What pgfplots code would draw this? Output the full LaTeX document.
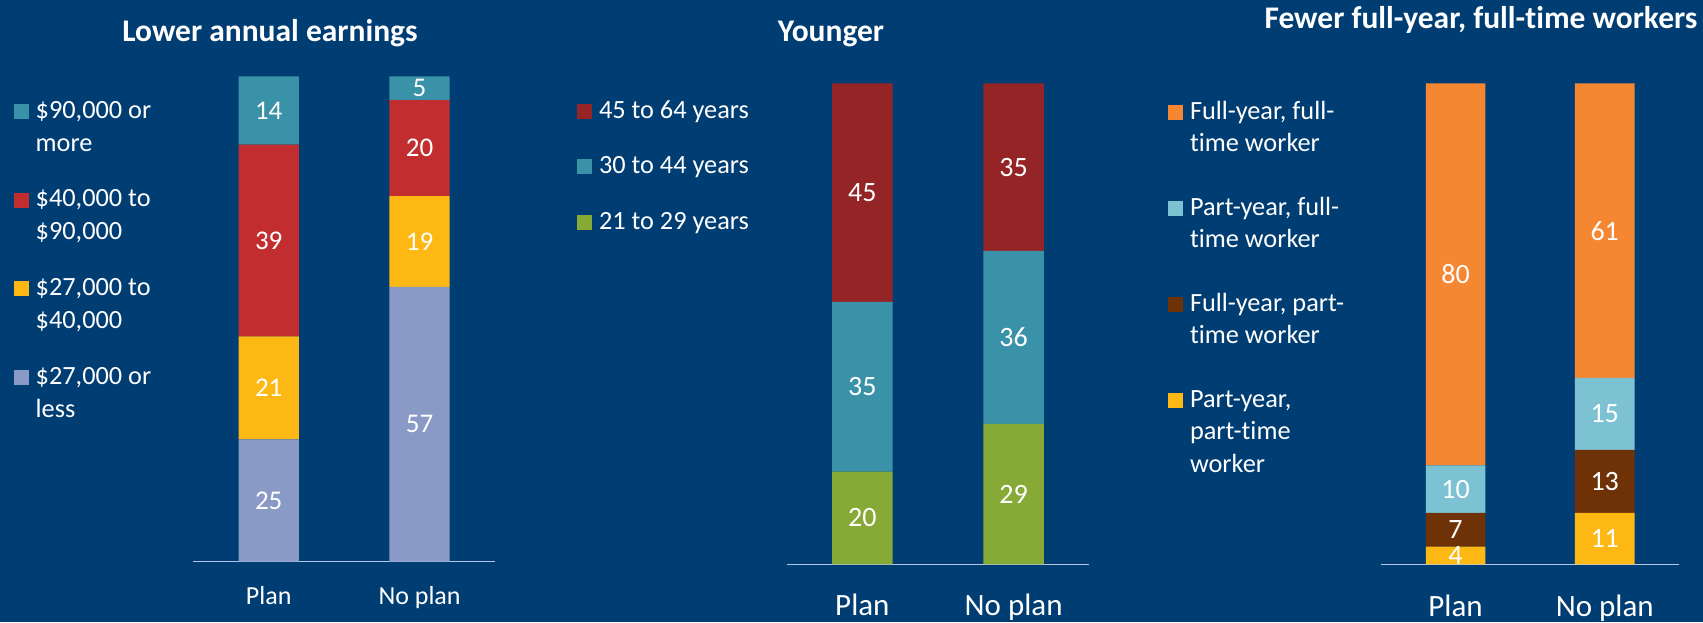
\documentclass[border=0pt]{standalone}
\usepackage{pgfplots}
\pgfplotsset{compat=1.18}
\usepackage{pgfplotstable}
\usepackage{fontspec}
\setmainfont{Carlito}[Ligatures=NoCommon]

\definecolor{bg}{HTML}{003D73}
\definecolor{axln}{HTML}{B4C7E7}
\definecolor{cTeal}{HTML}{3A92A8}
\definecolor{cRed}{HTML}{C22E2F}
\definecolor{cGold}{HTML}{FDB813}
\definecolor{cLav}{HTML}{8A9AC6}
\definecolor{cDRed}{HTML}{942426}
\definecolor{cGreen}{HTML}{87A935}
\definecolor{cOrange}{HTML}{F58733}
\definecolor{cLBlue}{HTML}{7DC2D3}
\definecolor{cBrown}{HTML}{6E3206}

% bar heights (percent), and printed labels
\pgfplotstableread{
x  a    al  b    bl  c    cl  d    dl
0  25.2 25  21.2 21  39.5 39  14.1 14
1  56.6 57  18.7 19  19.8 20  4.9  5
}\earn
\pgfplotstableread{
x  a    al  b    bl  c    cl
0  19.3 20  35.3 35  45.4 45
1  29.2 29  36.0 36  34.8 35
}\age
\pgfplotstableread{
x  a    al  b    bl  c    cl  d    dl
0  3.7  4   7.0  7   9.9  10  79.4 80
1  10.7 11  13.1 13  15.0 15  61.2 61
}\work

\pgfplotsset{
  panel/.style={
    scale only axis, clip=false,
    ybar stacked, bar width=0.4,
    xmin=-0.5, xmax=1.5, ymin=0, ymax=100, enlargelimits=false,
    hide y axis, axis x line*=bottom,
    x axis line style={draw=axln, line width=0.75pt},
    xtick={0,1}, xticklabels={Plan,No plan},
    major tick length=0pt, xtick style={draw=none},
    point meta=explicit symbolic,
    nodes near coords,
    every node near coord/.append style={text=white, anchor=center, inner sep=0pt},
    title style={text=white, anchor=base, font=\bfseries\fontsize{15.75}{18}\selectfont},
    reverse legend,
    legend image code/.code={\fill[##1] (0pt,-0.35pt) rectangle (7.5pt,7.15pt);},
    legend style={draw=none, fill=none, anchor=north west, inner sep=0pt, outer sep=0pt,
       text=white, cells={anchor=base west}, nodes={inner sep=0pt, text depth=, text height=}},
  },
  seg/.style={draw=none, fill=#1},
}

\newcommand{\two}[2]{\begin{tabular}[t]{@{}l@{}}#1\\#2\end{tabular}}
\newcommand{\three}[3]{\begin{tabular}[t]{@{}l@{}}#1\\#2\\#3\end{tabular}}
\newcommand{\one}[1]{\begin{tabular}[t]{@{}l@{}}#1\end{tabular}}

\begin{document}
\begin{tikzpicture}
\path[use as bounding box, fill=bg] (0,0) rectangle (851.5pt,311pt);

% Panel 1
\begin{axis}[panel, at={(96.65pt,30.15pt)}, anchor=south west,
  width=150.85pt, height=242.7pt,
  title={Lower annual earnings}, title style={at={(0.2542,1)}, yshift=11.3pt},
  xticklabel style={text=white, anchor=base, yshift=-21.15pt, font=\fontsize{13}{15}\selectfont},
  every node near coord/.append style={font=\fontsize{13.5}{16}\selectfont},
  legend style={at={(-0.5943,0.9611)}, row sep=11.3pt, column sep=3.35pt,
     font=\fontsize{13.15}{16.5}\selectfont},
]
\addplot[seg=cLav] table[x=x,y=a,meta=al]{\earn};
\addlegendentry{\two{\$27,000 or}{less}}
\addplot[seg=cGold] table[x=x,y=b,meta=bl]{\earn};
\addlegendentry{\two{\$27,000 to}{\$40,000}}
\addplot[seg=cRed] table[x=x,y=c,meta=cl]{\earn};
\addlegendentry{\two{\$40,000 to}{\$90,000}}
\addplot[seg=cTeal] table[x=x,y=d,meta=dl]{\earn};
\addlegendentry{\two{\$90,000 or}{more}}
\end{axis}

% Panel 2
\begin{axis}[panel, at={(393.35pt,28.8pt)}, anchor=south west,
  width=151.3pt, height=240.45pt,
  title={Younger}, title style={at={(0.1464,1)}, yshift=14.9pt},
  xticklabel style={text=white, anchor=base, yshift=-25.65pt, font=\fontsize{15.5}{18}\selectfont},
  every node near coord/.append style={font=\fontsize{14}{16}\selectfont},
  legend style={at={(-0.692,0.9757)}, row sep=11.25pt, column sep=3.35pt,
     font=\fontsize{13.15}{16.5}\selectfont},
]
\addplot[seg=cGreen] table[x=x,y=a,meta=al]{\age};
\addlegendentry{\one{21 to 29 years}}
\addplot[seg=cTeal] table[x=x,y=b,meta=bl]{\age};
\addlegendentry{\one{30 to 44 years}}
\addplot[seg=cDRed] table[x=x,y=c,meta=cl]{\age};
\addlegendentry{\one{45 to 64 years}}
\end{axis}

% Panel 3
\begin{axis}[panel, at={(690.5pt,28.8pt)}, anchor=south west,
  width=149.15pt, height=240.45pt,
  title={Fewer full-year, full-time workers}, title style={at={(0.3352,1)}, yshift=21.6pt},
  xticklabel style={text=white, anchor=base, yshift=-26.15pt, font=\fontsize{15.5}{18}\selectfont},
  every node near coord/.append style={font=\fontsize{14}{16}\selectfont},
  legend style={at={(-0.713,0.9729)}, row sep=15.5pt, column sep=3.35pt,
     font=\fontsize{13.15}{16.25}\selectfont},
]
\addplot[seg=cGold] table[x=x,y=a,meta=al]{\work};
\addlegendentry{\three{Part-year,}{part-time}{worker}}
\addplot[seg=cBrown] table[x=x,y=b,meta=bl]{\work};
\addlegendentry{\two{Full-year, part-}{time worker}}
\addplot[seg=cLBlue] table[x=x,y=c,meta=cl]{\work};
\addlegendentry{\two{Part-year, full-}{time worker}}
\addplot[seg=cOrange] table[x=x,y=d,meta=dl]{\work};
\addlegendentry{\two{Full-year, full-}{time worker}}
\end{axis}
\end{tikzpicture}
\end{document}
